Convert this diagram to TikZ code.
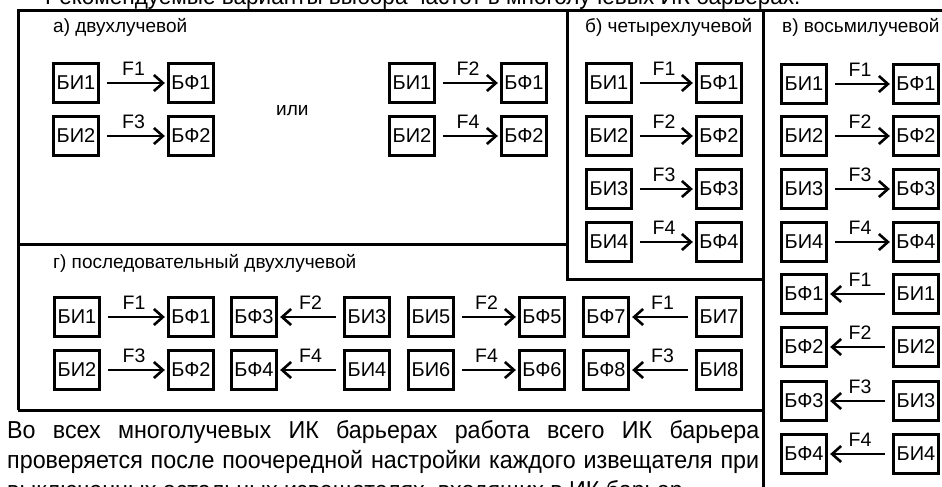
\documentclass[tikz,border=0pt]{standalone}
\usepackage{fontspec}
\setmainfont{Liberation Sans}
\newfontfamily\bodyfont[FakeStretch=0.95]{Liberation Sans}
\usetikzlibrary{arrows.meta}
\begin{document}
\begin{tikzpicture}[x=1pt,y=-1pt,
  blk/.style={draw, line width=2.8pt, minimum width=45.5pt, minimum height=38.5pt, inner sep=0pt, font=\fontsize{20}{22}\selectfont},
  arr/.style={line width=2.6pt, -{Straight Barb[length=9pt,width=16pt]}, shorten <=7pt, shorten >=2pt},
  flab/.style={midway, above, inner sep=0pt, yshift=6pt, font=\fontsize{19.5}{22}\selectfont},
  frm/.style={line width=3pt},
  ttl/.style={anchor=base west, inner sep=0pt, font=\fontsize{19}{22}\selectfont},
  body/.style={anchor=base west, inner sep=0pt, font=\bodyfont\fontsize{24.5}{28}\selectfont},
  head/.style={anchor=base west, inner sep=0pt, font=\bodyfont\fontsize{23.7}{26}\selectfont}]
\useasboundingbox (0,0) rectangle (942,487);
\clip (0,0) rectangle (942,487);
\fill[white] (0,0) rectangle (942,487);
% frames
\draw[frm] (18,410) -- (18,11) -- (946,11);
\draw[frm] (567,11) -- (567,279) -- (763,279);
\draw[frm] (763,11) -- (763,492);
\draw[frm] (18,244) -- (567,244);
\draw[frm] (18,410) -- (763,410);
% titles
\node[ttl] (la) at (53,33) {а) двухлучевой};
\node[ttl] (lb) at (585,33) {б) четырехлучевой};
\node[ttl] (lc) at (782,33) {в) восьмилучевой};
\node[ttl] (ld) at (53,268) {г) последовательный двухлучевой};
% a)
\node[blk] (aI1) at (76,83) {БИ1};
\node[blk] (aF1) at (191,83) {БФ1};
\node[blk] (aI2) at (76,136) {БИ2};
\node[blk] (aF2) at (191,136) {БФ2};
\draw[arr] (aI1) -- (aF1) node[flab] {F1};
\draw[arr] (aI2) -- (aF2) node[flab] {F3};
\node[ttl] (ili) at (276,115) {или};
\node[blk] (aI3) at (412,83) {БИ1};
\node[blk] (aF3) at (524,83) {БФ1};
\node[blk] (aI4) at (412,136) {БИ2};
\node[blk] (aF4) at (524,136) {БФ2};
\draw[arr] (aI3) -- (aF3) node[flab] {F2};
\draw[arr] (aI4) -- (aF4) node[flab] {F4};
% b)
\foreach \i/\y/\f in {1/83/F1,2/136/F2,3/189/F3,4/242/F4}{
  \node[blk] (bI\i) at (609,\y) {БИ\i};
  \node[blk] (bF\i) at (719,\y) {БФ\i};
  \draw[arr] (bI\i) -- (bF\i) node[flab] {\f};
}
% c)
\foreach \i/\y/\f in {1/84/F1,2/136/F2,3/189/F3,4/242/F4}{
  \node[blk] (cI\i) at (804,\y) {БИ\i};
  \node[blk] (cF\i) at (916,\y) {БФ\i};
  \draw[arr] (cI\i) -- (cF\i) node[flab] {\f};
}
\foreach \i/\y/\f in {1/294/F1,2/347/F2,3/401/F3,4/454/F4}{
  \node[blk] (cG\i) at (804,\y) {БФ\i};
  \node[blk] (cJ\i) at (916,\y) {БИ\i};
  \draw[arr] (cJ\i) -- (cG\i) node[flab] {\f};
}
% d)
\foreach \r/\y/\fa/\fb/\fc/\fd [evaluate=\r as \s using int(\r+2), evaluate=\r as \t using int(\r+4), evaluate=\r as \u using int(\r+6)] in {1/317/F1/F2/F2/F1,2/370/F3/F4/F4/F3}{
  \node[blk] (dI\r) at (77,\y) {БИ\r};
  \node[blk] (dF\r) at (191,\y) {БФ\r};
  \node[blk] (dF\s) at (254,\y) {БФ\s};
  \node[blk] (dI\s) at (367,\y) {БИ\s};
  \node[blk] (dI\t) at (431,\y) {БИ\t};
  \node[blk] (dF\t) at (542,\y) {БФ\t};
  \node[blk] (dF\u) at (606,\y) {БФ\u};
  \node[blk] (dI\u) at (719,\y) {БИ\u};
  \draw[arr] (dI\r) -- (dF\r) node[flab] {\fa};
  \draw[arr] (dI\s) -- (dF\s) node[flab] {\fb};
  \draw[arr] (dI\t) -- (dF\t) node[flab] {\fc};
  \draw[arr] (dI\u) -- (dF\u) node[flab] {\fd};
}
% text
\node[head] (tt) at (45,5) {Рекомендуемые варианты выбора частот в многолучевых ИК барьерах:};
\node[body] (t1) at (7,438) {\makebox[752pt][s]{Во всех многолучевых ИК барьерах работа всего ИК барьера}};
\node[body] (t2) at (7,468) {\makebox[752pt][s]{проверяется после поочередной настройки каждого извещателя при}};
\node[body] (t3) at (7,498) {выключенных остальных извещателях, входящих в ИК барьер.};
\end{tikzpicture}
\end{document}
